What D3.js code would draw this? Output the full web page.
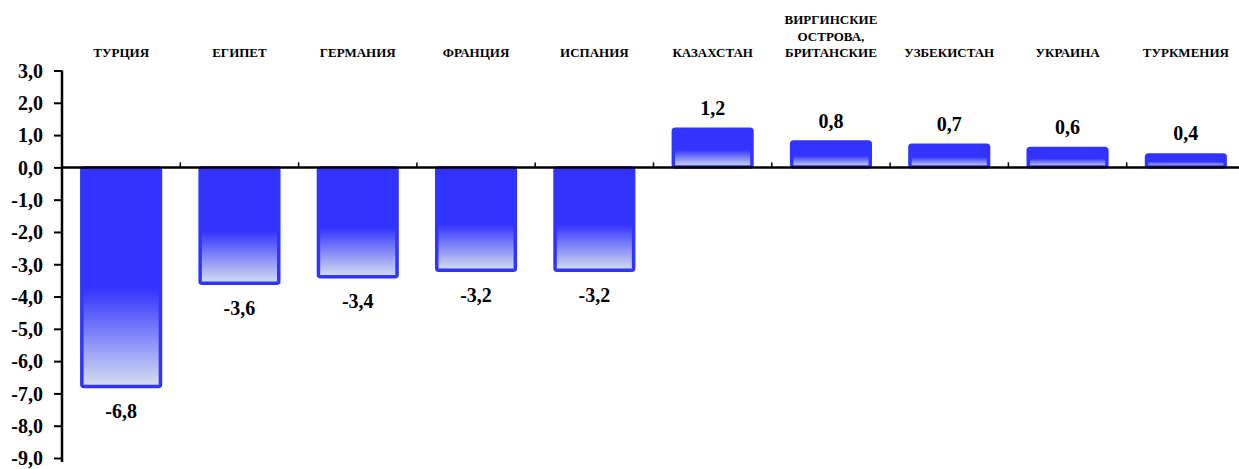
<!DOCTYPE html>
<html>
<head>
<meta charset="utf-8">
<script src="https://cdn.jsdelivr.net/npm/d3@7"></script>
<style>
  body { margin: 0; background: #fff; }
</style>
</head>
<body>
<div id="chart"></div>
<script>
const countries = ["ТУРЦИЯ", "ЕГИПЕТ", "ГЕРМАНИЯ", "ФРАНЦИЯ", "ИСПАНИЯ", "КАЗАХСТАН", "ВИРГИНСКИЕ ОСТРОВА, БРИТАНСКИЕ", "УЗБЕКИСТАН", "УКРАИНА", "ТУРКМЕНИЯ"];
const labelLines = [["ТУРЦИЯ"], ["ЕГИПЕТ"], ["ГЕРМАНИЯ"], ["ФРАНЦИЯ"], ["ИСПАНИЯ"], ["КАЗАХСТАН"], ["ВИРГИНСКИЕ", "ОСТРОВА,", "БРИТАНСКИЕ"], ["УЗБЕКИСТАН"], ["УКРАИНА"], ["ТУРКМЕНИЯ"]];
const values = [-6.8, -3.6, -3.4, -3.2, -3.2, 1.2, 0.8, 0.7, 0.6, 0.4];
const yTicks = [3, 2, 1, 0, -1, -2, -3, -4, -5, -6, -7, -8, -9];

const W = 1239, H = 469;
const pad = { l: 62, r: -6, t: 70.5, b: 11 };
const FONT = "'Liberation Serif', 'Times New Roman', serif";
const fmt = (v) => v.toFixed(1).replace(".", ",");

const svg = d3.select("#chart").append("svg").attr("width", W).attr("height", H);

const defs = svg.append("defs");
const grad = defs.append("linearGradient").attr("id", "barGrad").attr("x1", 0).attr("y1", 0).attr("x2", 0).attr("y2", 1);
grad.append("stop").attr("offset", "0%").attr("stop-color", "#3333ff");
grad.append("stop").attr("offset", "55%").attr("stop-color", "#3333ff");
grad.append("stop").attr("offset", "100%").attr("stop-color", "#d4e0f0");

const x = d3.scaleBand().domain(countries).range([pad.l, W - pad.r]).paddingInner(0.31).paddingOuter(0.155);
const xTick = d3.scaleBand().domain(countries).range([pad.l, W - pad.r]);
const y = d3.scaleLinear().domain([3, -9]).range([pad.t, H - pad.b]);

// y axis
const yAxis = svg.append("g").attr("transform", `translate(${pad.l},0)`)
  .call(d3.axisLeft(y).tickValues(yTicks).tickFormat(fmt).tickSize(8).tickPadding(11));
yAxis.select(".domain").attr("stroke", "#000").attr("stroke-width", 2.5).attr("d", `M0,${y(3)}V${y(-9) + 4}`);
yAxis.selectAll(".tick line").attr("stroke", "#000").attr("stroke-width", 2);
yAxis.selectAll(".tick text")
  .style("font-family", FONT).style("font-weight", "bold").style("font-size", "20px")
  .attr("fill", "#000").attr("dy", "0.34em");

// bars
svg.append("g").selectAll("rect").data(values).join("rect")
  .attr("x", (d, i) => x(countries[i]) + 1.5)
  .attr("width", x.bandwidth() - 3)
  .attr("y", (d) => Math.min(y(d), y(0)) + 0.5)
  .attr("height", (d) => Math.abs(y(d) - y(0)) - 1)
  .attr("rx", 2)
  .attr("fill", "url(#barGrad)")
  .attr("stroke", "#3333ff")
  .attr("stroke-width", 3.5);

// x axis at zero
const xAxis = svg.append("g").attr("transform", `translate(0,${y(0)})`);
xAxis.append("line").attr("x1", pad.l).attr("x2", W).attr("y1", 0).attr("y2", 0).attr("stroke", "#000").attr("stroke-width", 2.5);
xAxis.selectAll("line.tk").data(countries.slice(1)).join("line").attr("class", "tk")
  .attr("x1", (d) => xTick(d)).attr("x2", (d) => xTick(d))
  .attr("y1", 0).attr("y2", -5).attr("stroke", "#000").attr("stroke-width", 1.5);

// category labels
const cats = svg.append("g").selectAll("text").data(labelLines).join("text")
  .attr("text-anchor", "middle")
  .style("font-family", FONT).style("font-weight", "bold").style("font-size", "13px")
  .attr("fill", "#000")
  .attr("transform", (d, i) => `translate(${x(countries[i]) + x.bandwidth() / 2},57)`);
cats.selectAll("tspan").data((d) => d).join("tspan")
  .attr("x", 0)
  .attr("y", (d, j, arr) => (j - (arr.length - 1)) * 16.5)
  .text((d) => d);

// value labels
svg.append("g").selectAll("text").data(values).join("text")
  .attr("text-anchor", "middle")
  .style("font-family", FONT).style("font-weight", "bold").style("font-size", "20px")
  .attr("fill", "#000")
  .attr("x", (d, i) => x(countries[i]) + x.bandwidth() / 2)
  .attr("y", (d) => (d < 0 ? y(d) + 31 : y(d) - 14))
  .text(fmt);
</script>
</body>
</html>
